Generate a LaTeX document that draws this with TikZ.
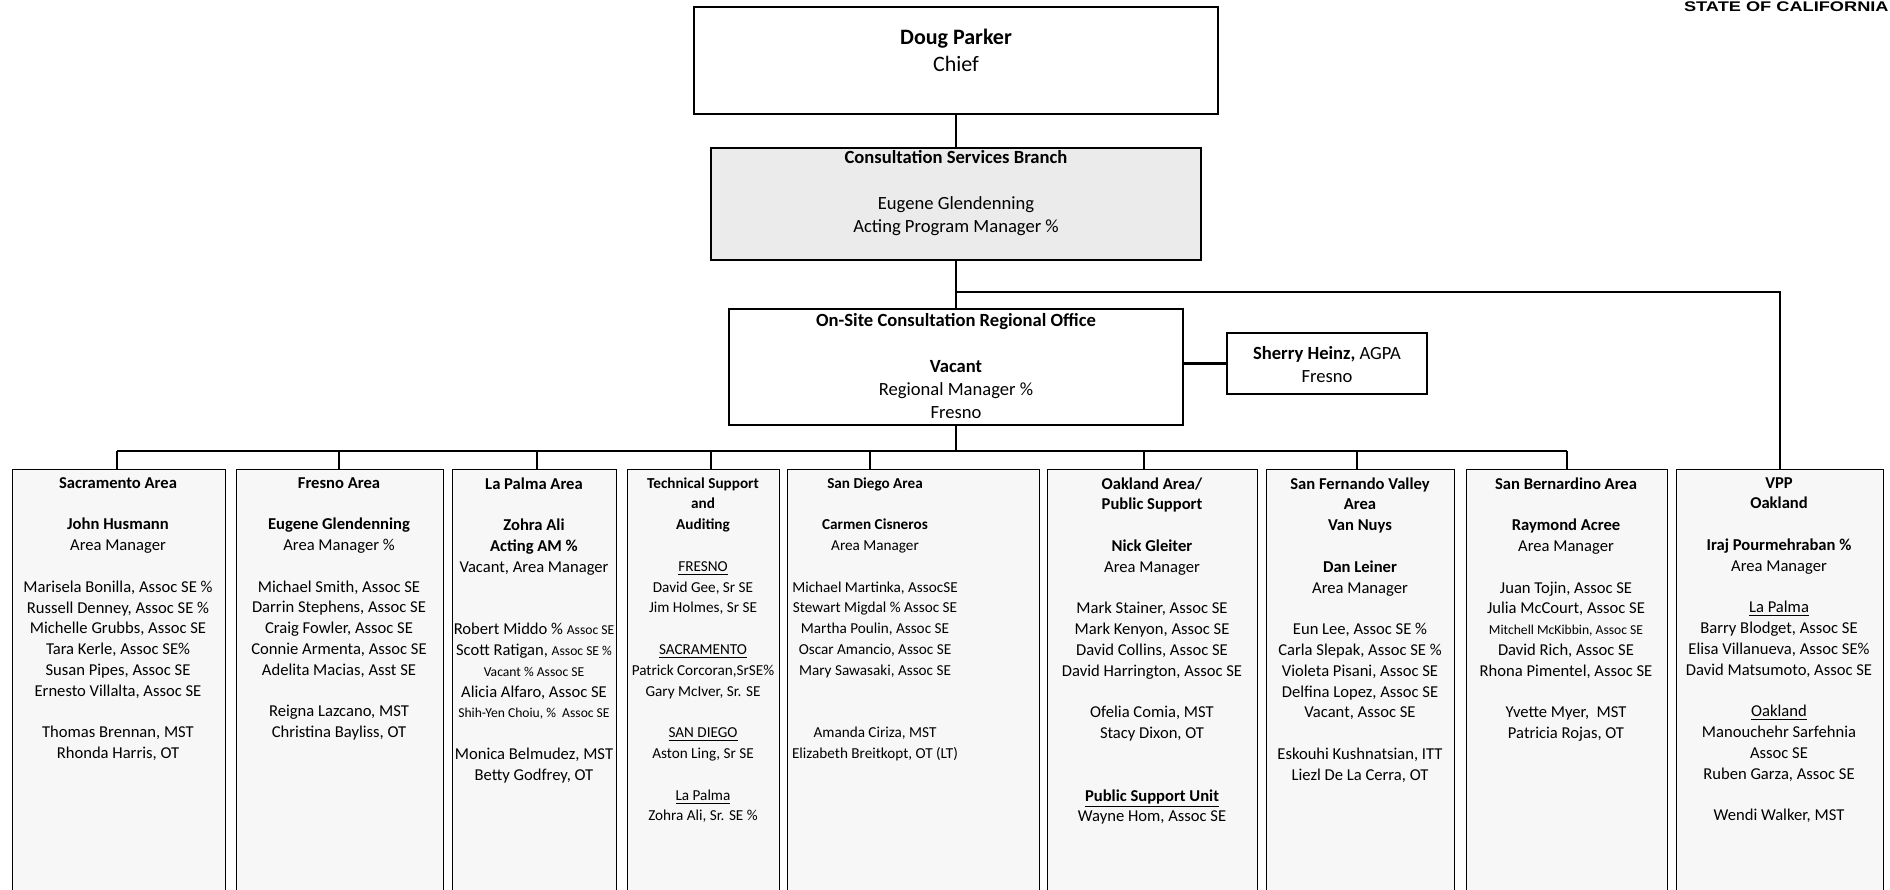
\documentclass[tikz,border=0pt]{standalone}
\usepackage{fontspec}
\setmainfont{Carlito}
\newfontfamily\statefont{Liberation Sans}
\usetikzlibrary{positioning}

\tikzset{
	box/.style={draw, line width=0.7pt, inner sep=0pt},
	topbox/.style={box, fill=white},
	shadebox/.style={box, fill=gray!16},
	areabox/.style={box, fill=gray!6, anchor=north west, minimum height=216pt},
	conn/.style={line width=1pt},
	drop/.style={line width=0.6pt},
	toptext/.style={font=\fontsize{11}{13.5}\selectfont, align=center, inner sep=0pt, anchor=north},
	midtext/.style={font=\fontsize{9.3}{11.5}\selectfont, align=center, inner sep=0pt, anchor=north},
	areatext/.style={font=\fontsize{8.3}{10.4}\selectfont, align=center, inner sep=0pt, anchor=north},
	narrow/.style={font=\fontsize{7.6}{10.4}\selectfont}
}
\newcommand{\bl}{\\[\baselineskip]}
\newcommand{\bbl}{\\[2\baselineskip]}
\newcommand{\sm}[1]{{\fontsize{6.8}{10.4}\selectfont #1}}

\begin{document}
\begin{tikzpicture}[x=0.5pt,y=-0.5pt]

\useasboundingbox (0,0) rectangle (1890,889);
\clip (0,0) rectangle (1890,889);

% Header in the corner
\node[anchor=base east, font=\statefont\fontsize{7}{8}\selectfont\bfseries, inner sep=0pt] (state) at (1889,11) {\scalebox{1.3}[1]{STATE OF CALIFORNIA}};

% Top of the chart
\node[topbox, minimum width=262pt, minimum height=53.5pt] (chief) at (956,60.5) {};
\node[toptext] (chiefT) at (956,29) {\textbf{Doug Parker}\\Chief};

\node[shadebox, minimum width=245pt, minimum height=56pt] (csb) at (956,204) {};
\node[midtext] (csbT) at (956,150) {\textbf{Consultation Services Branch}\bl Eugene Glendenning\\Acting Program Manager \%};

\node[topbox, minimum width=227pt, minimum height=58pt] (onsite) at (956,367) {};
\node[midtext] (onsiteT) at (956,313) {\textbf{On-Site Consultation Regional Office}\bl \textbf{Vacant}\\Regional Manager \%\\Fresno};

\node[topbox, minimum width=100pt, minimum height=30.5pt] (sherry) at (1327,363.5) {};
\node[midtext, anchor=center] (sherryT) at (1327,365) {\textbf{Sherry Heinz,} AGPA\\Fresno};

% An area office: [text style] name, left edge, width, text centre, staff list
\newcommand{\areaoffice}[6][]{%
	\node[areabox, minimum width=#4] (#2) at (#3,469) {};
	\node[areatext,#1] (#2T) at (#5,477) {#6};
}

\areaoffice{sac}{12}{106.5pt}{118}{\textbf{Sacramento Area}\bl
	\textbf{John Husmann}\\Area Manager\bl
	Marisela Bonilla, Assoc SE \%\\Russell Denney, Assoc SE \%\\Michelle Grubbs, Assoc SE\\
	Tara Kerle, Assoc SE\%\\Susan Pipes, Assoc SE\\Ernesto Villalta, Assoc SE\bl
	Thomas Brennan, MST\\Rhonda Harris, OT}

\areaoffice{fre}{236}{103.5pt}{339}{\textbf{Fresno Area}\bl
	\textbf{Eugene Glendenning}\\Area Manager \%\bl
	Michael Smith, Assoc SE\\Darrin Stephens, Assoc SE\\Craig Fowler, Assoc SE\\
	Connie Armenta, Assoc SE\\Adelita Macias, Asst SE\bl
	Reigna Lazcano, MST\\Christina Bayliss, OT}

\areaoffice{lap}{452}{82pt}{534}{\textbf{La Palma Area}\bl
	\textbf{Zohra Ali}\\\textbf{Acting AM \%}\\Vacant, Area Manager\bbl
	Robert Middo \% \sm{Assoc SE}\\Scott Ratigan, \sm{Assoc SE \%}\\\sm{Vacant \% Assoc SE}\\
	Alicia Alfaro, Assoc SE\\\sm{Shih-Yen Choiu, \%\ \ Assoc SE}\bl
	Monica Belmudez, MST\\Betty Godfrey, OT}

\areaoffice[narrow]{tec}{627}{76pt}{703}{\textbf{Technical Support}\\\textbf{and}\\\textbf{Auditing}\bl
	\underline{FRESNO}\\David Gee, Sr SE\\Jim Holmes, Sr SE\bl
	\underline{SACRAMENTO}\\Patrick Corcoran,SrSE\%\\Gary McIver, Sr. SE\bl
	\underline{SAN DIEGO}\\Aston Ling, Sr SE\bl
	\underline{La Palma}\\Zohra Ali, Sr. SE \%}

\areaoffice[narrow]{sdg}{787}{126pt}{875}{\textbf{San Diego Area}\bl
	\textbf{Carmen Cisneros}\\Area Manager\bl
	Michael Martinka, AssocSE\\Stewart Migdal \% Assoc SE\\Martha Poulin, Assoc SE\\
	Oscar Amancio, Assoc SE\\Mary Sawasaki, Assoc SE\bbl
	Amanda Ciriza, MST\\Elizabeth Breitkopt, OT (LT)}

\areaoffice{oak}{1047}{105pt}{1152}{\textbf{Oakland Area/}\\\textbf{Public Support}\bl
	\textbf{Nick Gleiter}\\Area Manager\bl
	Mark Stainer, Assoc SE\\Mark Kenyon, Assoc SE\\David Collins, Assoc SE\\
	David Harrington, Assoc SE\bl
	Ofelia Comia, MST\\Stacy Dixon, OT\bbl
	\textbf{\underline{Public Support Unit}}\\Wayne Hom, Assoc SE}

\areaoffice{sfv}{1266}{94pt}{1360}{\textbf{San Fernando Valley}\\\textbf{Area}\\\textbf{Van Nuys}\bl
	\textbf{Dan Leiner}\\Area Manager\bl
	Eun Lee, Assoc SE \%\\Carla Slepak, Assoc SE \%\\Violeta Pisani, Assoc SE\\
	Delfina Lopez, Assoc SE\\Vacant, Assoc SE\bl
	Eskouhi Kushnatsian, ITT\\Liezl De La Cerra, OT}

\areaoffice{sbd}{1466}{100.5pt}{1566}{\textbf{San Bernardino Area}\bl
	\textbf{Raymond Acree}\\Area Manager\bl
	Juan Tojin, Assoc SE\\Julia McCourt, Assoc SE\\\sm{Mitchell McKibbin, Assoc SE}\\
	David Rich, Assoc SE\\Rhona Pimentel, Assoc SE\bl
	Yvette Myer,\ \ MST\\Patricia Rojas, OT}

\areaoffice{vpp}{1676}{103.5pt}{1779}{\textbf{VPP}\\\textbf{Oakland}\bl
	\textbf{Iraj Pourmehraban \%}\\Area Manager\bl
	\underline{La Palma}\\Barry Blodget, Assoc SE\\Elisa Villanueva, Assoc SE\%\\
	David Matsumoto, Assoc SE\bl
	\underline{Oakland}\\Manouchehr Sarfehnia\\Assoc SE\\Ruben Garza, Assoc SE\bl
	Wendi Walker, MST}

% Draw the connectors
\coordinate (branch) at (956,292);
\coordinate (bus) at (956,451);
\draw[conn] (chief) -- (csb);
\draw[conn] (csb) -- (onsite);
\draw[conn] (branch) -| (vpp);
\draw[line width=1.5pt] (sherry.west -| onsite.east) -- (sherry.west);
\draw[conn] (onsite) -- (bus);

\foreach \n/\x in {sac/117,fre/339,lap/537,tec/711,sdg/870,oak/1144,sfv/1357,sbd/1567}
{
	\coordinate (d\n) at (\x,451);
	\draw[drop] (d\n) -- (d\n |- \n.north);
}
\draw[drop] (dsac) -- (dsbd);
\end{tikzpicture}
\end{document}
